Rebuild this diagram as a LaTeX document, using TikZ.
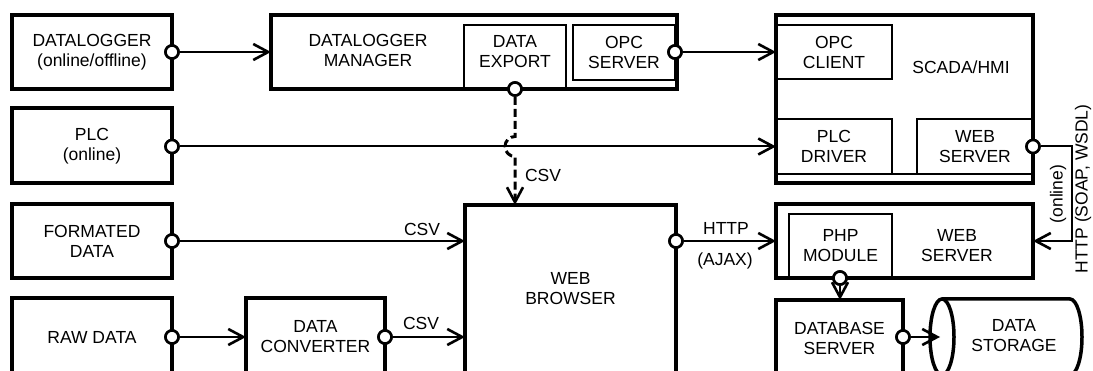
\documentclass[tikz,border=0pt]{standalone}
\usepackage{fontspec}
\setmainfont{Liberation Sans}
\usetikzlibrary{arrows.meta,calc}
\begin{document}
\begin{tikzpicture}[x=1pt,y=-1pt,
  every node/.style={font=\fontsize{17.5}{20}\selectfont, align=center},
  bigbox/.style={draw, line width=4pt, inner sep=0pt, outer sep=0pt},
  subbox/.style={draw, line width=2pt, inner sep=0pt, outer sep=0pt},
  port/.style={circle, draw, fill=white, line width=2.6pt, minimum size=13pt, inner sep=0pt},
  conn/.style={line width=2pt, -{Straight Barb[length=15pt,width=16pt,line width=2.6pt]}},
  dconn/.style={conn, line width=3pt, dash pattern=on 8pt off 4pt},
  txt/.style={inner sep=0pt},
  vtxt/.style={inner sep=0pt, rotate=90},
]
\useasboundingbox (0,0) rectangle (1093,371);
\clip (0,0) rectangle (1093,371);

% left column
\node[bigbox, minimum width=160pt, minimum height=74pt] (dlog) at (92,52) {DATALOGGER\\(online/offline)};
\node[bigbox, minimum width=160pt, minimum height=75pt] (plc) at (92,146) {PLC\\(online)};
\node[bigbox, minimum width=160pt, minimum height=74pt] (fmt) at (92,241) {FORMATED\\DATA};
\node[bigbox, minimum width=160pt, minimum height=78pt] (raw) at (92,337) {RAW DATA};
\node[bigbox, minimum width=139pt, minimum height=78pt] (conv) at (315.5,337) {DATA\\CONVERTER};

% datalogger manager
\node[bigbox, minimum width=406pt, minimum height=74pt] (dlm) at (474,52) {};
\node[txt] (dlmt) at (368,50) {DATALOGGER\\MANAGER};
\node[subbox, minimum width=102pt, minimum height=64pt] (dexp) at (515,57) {};
\node[txt] (dexpt) at (515,51.5) {DATA\\EXPORT};
\node[subbox, minimum width=102pt, minimum height=55pt] (opcs) at (624,52.5) {OPC\\SERVER};

% web browser
\node[bigbox, minimum width=211pt, minimum height=168pt] (wb) at (570.5,289) {WEB\\BROWSER};

% scada
\node[bigbox, minimum width=257pt, minimum height=168pt] (scada) at (904.5,99) {};
\node[txt] (scadat) at (961,67) {SCADA/HMI};
\node[subbox, minimum width=116pt, minimum height=54pt] (opcc) at (834,52) {OPC\\CLIENT};
\node[subbox, minimum width=116pt, minimum height=55pt] (plcd) at (834,146.5) {PLC\\DRIVER};
\node[subbox, minimum width=116pt, minimum height=55pt] (wss) at (975,146.5) {WEB\\SERVER};
\draw[line width=2pt] (scada.west |- plcd.south) -- (scada.east |- plcd.south);

% lower web server
\node[bigbox, minimum width=257pt, minimum height=74pt] (wsl) at (904.5,241) {};
\node[txt] (wslt) at (957,246) {WEB\\SERVER};
\node[subbox, minimum width=103pt, minimum height=64pt] (php) at (840.5,246) {PHP\\MODULE};

% database
\node[bigbox, minimum width=127pt, minimum height=76pt] (db) at (839.5,338) {DATABASE\\SERVER};

% data storage cylinder
\draw[line width=3.5pt] (942,337) ellipse[x radius=12pt, y radius=38pt];
\draw[line width=3.5pt] (942,299) -- (1070,299) arc[start angle=90, end angle=-90, x radius=12pt, y radius=38pt] -- (942,375);
\node[txt] (stor) at (1014,336) {DATA\\STORAGE};
\coordinate (storL) at (940,337);

% ports
\node[port] (pdl) at (172,52) {};
\node[port] (popc) at (675,52) {};
\node[port] (pplc) at (172,146.5) {};
\node[port] (pexp) at (515,89) {};
\node[port] (pfmt) at (172,241) {};
\node[port] (praw) at (172,337) {};
\node[port] (pconv) at (385,337) {};
\node[port] (pwb) at (676,241) {};
\node[port] (pws) at (1033,146.5) {};
\node[port] (pphp) at (840,278) {};
\node[port] (pdb) at (903,337) {};

% connectors
\draw[conn] (pdl) -- (pdl -| dlm.west);
\draw[conn] (popc) -- (popc -| opcc.west);
\draw[conn] (pplc) -- (pplc -| plcd.west);
\draw[dconn] (pexp) -- ([yshift=10pt]pexp |- pplc) arc[start angle=90, end angle=270, radius=10pt] -- (pexp |- wb.north);
\node[txt] (csv1) at (543,175) {CSV};
\draw[conn] (pfmt) -- (pfmt -| wb.west);
\node[txt] (csv2) at (422,229) {CSV};
\draw[conn] (praw) -- (praw -| conv.west);
\draw[conn] (pconv) -- (pconv -| wb.west);
\node[txt] (csv3) at (421,323) {CSV};
\draw[conn] (pwb) -- (pwb -| wsl.west);
\node[txt] (http) at (726,228) {HTTP};
\node[txt] (ajax) at (725,261) {(AJAX)};
\draw[conn] (pws) -- (1072,146.5) |- (wsl.east);
\node[vtxt] (onl) at (1058,194) {(online)};
\node[vtxt] (soap) at (1083,189) {HTTP (SOAP, WSDL)};
\draw[conn] (pphp) -- (pphp |- db.north);
\draw[conn] (pdb) -- (storL);

% redraw ports on top
\foreach \p in {pdl,popc,pplc,pexp,pfmt,praw,pconv,pwb,pws,pphp,pdb}
  \node[port] at (\p) {};
\end{tikzpicture}
\end{document}
